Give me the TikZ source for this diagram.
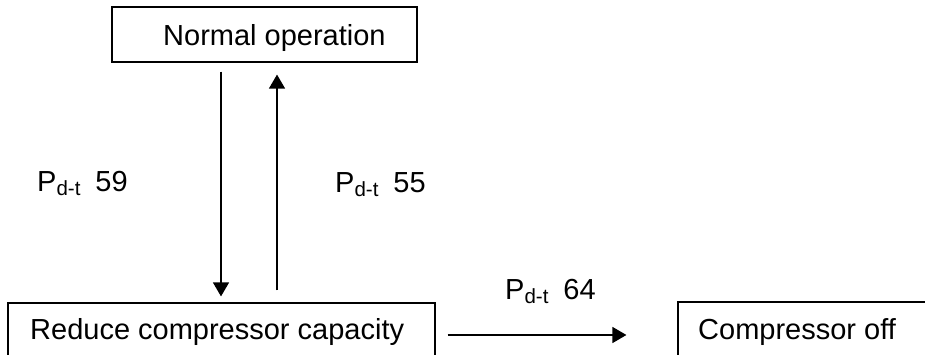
\documentclass[tikz,border=0pt]{standalone}
\usepackage{fontspec}
\setmainfont{Liberation Sans}
\usetikzlibrary{arrows.meta,calc}
\newcommand{\pdt}[1]{P\raisebox{-4pt}{\fontsize{20.5}{20}\selectfont d-t}\hspace{15pt}#1}
\begin{document}
\begin{tikzpicture}[x=1pt,y=1pt,
  box/.style={draw,line width=1.2pt,inner sep=0pt,minimum height=55pt},
  txt/.style={anchor=base west,inner sep=0pt,font=\fontsize{29}{34}\selectfont},
  arr/.style={line width=1.3pt,-{Triangle[length=14pt,width=16pt]}}]
\useasboundingbox (0,0) rectangle (925,355);
\clip (0,0) rectangle (925,355);
\fill[white] (0,0) rectangle (925,355);
% boxes
\node[box,minimum width=305pt] (normal) at (264.5,320.5) {};
\node[box,minimum width=427pt] (reduce) at (221.5,24.5) {};
\node[box,minimum width=270pt] (comp) at (813,25.5) {};
% texts
\node[txt] (normaltext) at (163,309) {Normal operation};
\node[txt] (reducetext) at (30,15) {Reduce compressor capacity};
\node[txt] (comptext) at (698,15) {Compressor off};
\node[txt] (l59) at (37,163) {\pdt{59}};
\node[txt] (l55) at (335,162) {\pdt{55}};
\node[txt] (l64) at (505,55) {\pdt{64}};
% connectors
\draw[arr] ($(normal.south)+(-43.5,-9)$) -- ($(reduce.north)+(-0.5,6)$);
\draw[arr] ($(reduce.north)+(55.5,12)$) -- ($(normal.south)+(12.5,-12)$);
\draw[arr] ($(reduce.east)+(12,-4.5)$) -- ($(comp.west)+(-51,-5.5)$);
\end{tikzpicture}
\end{document}
